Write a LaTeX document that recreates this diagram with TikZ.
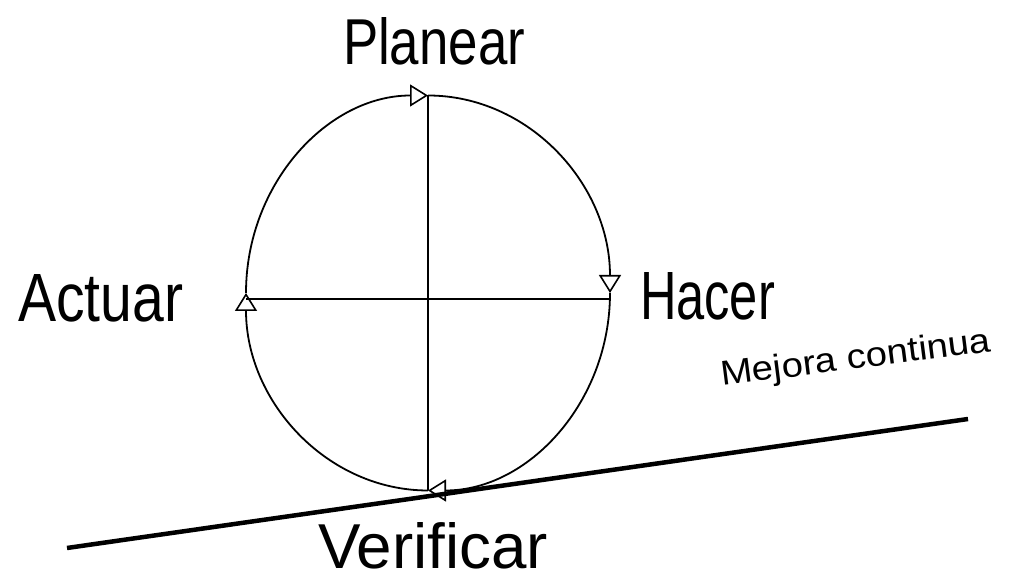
\documentclass[tikz,border=0pt]{standalone}
\usepackage{fontspec}
\setmainfont{Liberation Sans}
\usetikzlibrary{arrows.meta}
\begin{document}
\begin{tikzpicture}[x=1pt,y=1pt,
  cyc/.style={line width=1.8pt,-{Triangle[open,length=18pt,width=22pt,line width=1.6pt]}},
  axis/.style={line width=1.6pt},
  lbl/.style={anchor=base west,inner sep=0pt,outer sep=0pt}]
\useasboundingbox (0,0) rectangle (1010,577);
\coordinate (C) at (428,284);
\coordinate (T) at (428,481.5);
\coordinate (B) at (428,86.5);
\coordinate (L) at (246,284);
\coordinate (R) at (610,284);
\coordinate (HL) at (246.1,278);
\coordinate (HR) at (609.9,278);
% axes
\draw[axis] (T) -- (B);
\draw[axis] (HL) -- (HR);
% cycle arcs (clockwise)
\draw[cyc] (L) arc[start angle=180,end angle=90,x radius=182,y radius=197.5];
\draw[cyc] (T) arc[start angle=90,end angle=0,x radius=182,y radius=197.5];
\draw[cyc] (R) arc[start angle=0,end angle=-90,x radius=182,y radius=197.5];
\draw[cyc] (B) arc[start angle=270,end angle=180,x radius=182,y radius=197.5];
% improvement line
\coordinate (M1) at (67,29);
\coordinate (M2) at (968,158);
\draw[line width=4.5pt] (M1) -- (M2);
% labels
\node[lbl] (plan) at (343,512) {\resizebox{182pt}{47pt}{Planear}};
\node[lbl] (hacer) at (640,257) {\resizebox{135pt}{47pt}{Hacer}};
\node[lbl] (actuar) at (18,255) {\resizebox{165pt}{47pt}{Actuar}};
\node[lbl] (verif) at (318,8) {\resizebox{230pt}{46pt}{Verificar}};
\node[lbl,rotate=7.3] (mejora) at (722,191) {\resizebox{272pt}{25pt}{Mejora continua}};
\end{tikzpicture}
\end{document}
